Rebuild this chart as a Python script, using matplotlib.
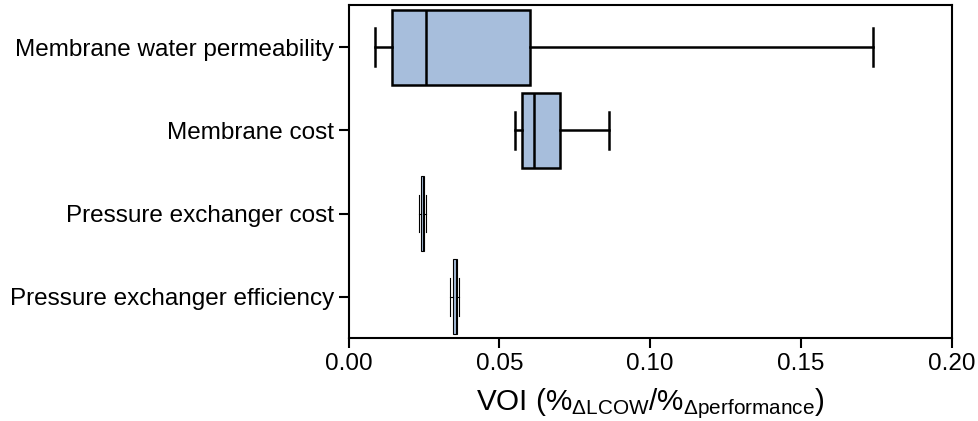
import matplotlib
matplotlib.use("Agg")
import matplotlib.pyplot as plt

plt.rcParams['font.family'] = ['Liberation Sans', 'DejaVu Sans']
plt.rcParams['mathtext.default'] = 'regular'

categories = ["Membrane water permeability", "Membrane cost",
              "Pressure exchanger cost", "Pressure exchanger efficiency"]
whislo = [0.0087, 0.0551, 0.0234, 0.0337]
q1 = [0.0145, 0.0576, 0.0242, 0.0348]
med = [0.0256, 0.0614, 0.0247, 0.0355]
q3 = [0.0602, 0.0702, 0.0251, 0.0361]
whishi = [0.1740, 0.0863, 0.0257, 0.0368]
xticks = [0.00, 0.05, 0.10, 0.15, 0.20]

fill = '#a7bedc'

fig = plt.figure(figsize=(9.79, 4.21), dpi=100)
ax = fig.add_axes([0.356, 0.196, 0.616, 0.791])

for i, cat in enumerate(categories):
    st = dict(label=cat, whislo=whislo[i], q1=q1[i], med=med[i], q3=q3[i],
              whishi=whishi[i], fliers=[])
    lw = 1.8 if i < 2 else 0.8
    ax.bxp([st], positions=[i], widths=0.9, vert=False, patch_artist=True,
           showfliers=False,
           boxprops=dict(facecolor=fill, edgecolor='black', linewidth=lw),
           medianprops=dict(color='black', linewidth=lw),
           whiskerprops=dict(color='black', linewidth=lw),
           capprops=dict(color='black', linewidth=lw))

ax.set_ylim(3.5, -0.5)
ax.set_yticks(range(len(categories)))
ax.set_yticklabels(categories)
ax.set_xlim(0, 0.20)
ax.set_xticks(xticks)
ax.set_xticklabels([f"{t:.2f}" for t in xticks])
ax.tick_params(axis='both', labelsize=17.5, length=7, width=1.5, color='black')
for s in ax.spines.values():
    s.set_linewidth(1.5)
ax.set_xlabel(r'VOI (%$_{ΔLCOW}$/%$_{Δperformance}$)', fontsize=21.3, labelpad=8)

fig.savefig('out.png', dpi=100)
